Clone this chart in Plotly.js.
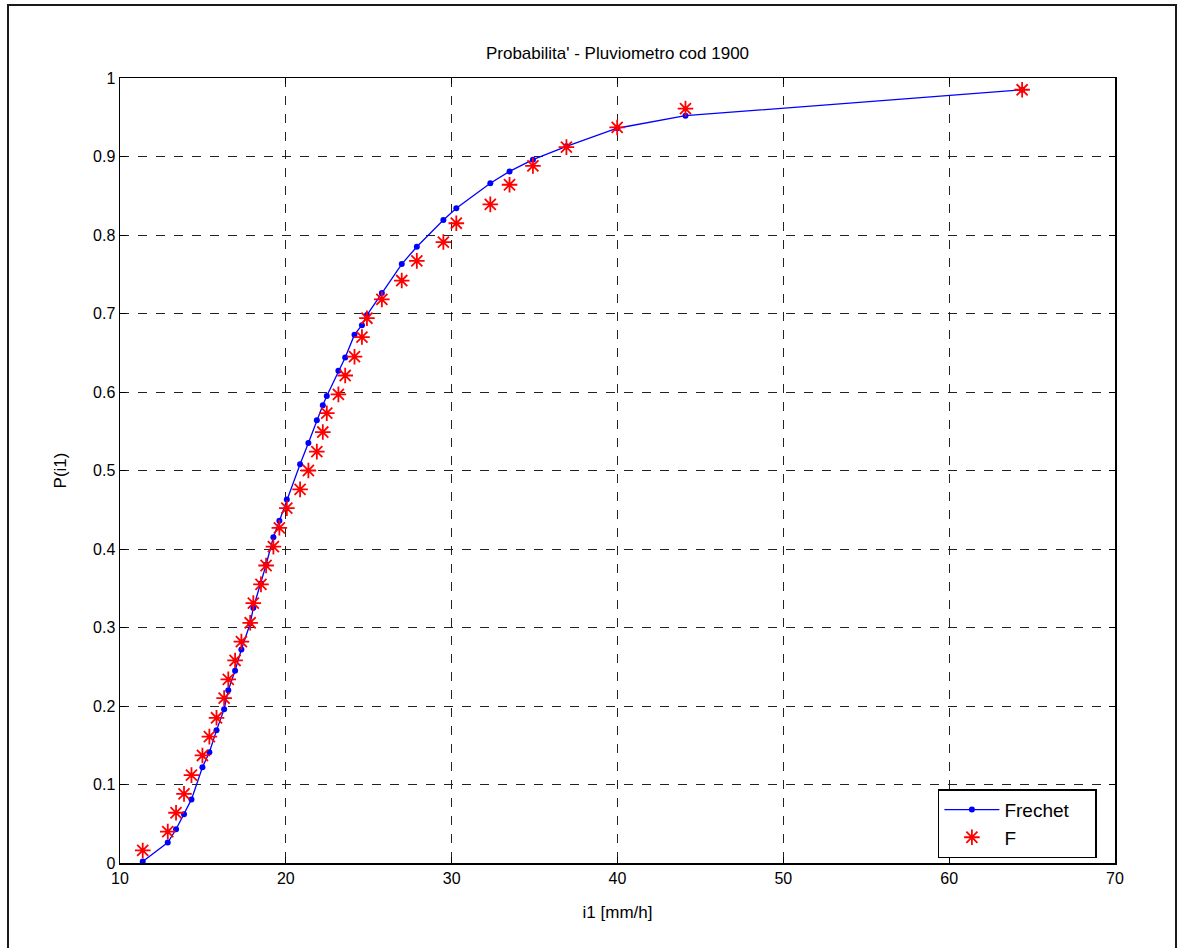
<!DOCTYPE html>
<html>
<head>
<meta charset="utf-8">
<script src="https://cdn.plot.ly/plotly-3.0.1.min.js"></script>
<style>
  html, body { margin: 0; padding: 0; background: #fff; }
  #wrap { position: relative; width: 1184px; height: 948px; overflow: hidden; }
  #chart { position: absolute; left: 0; top: 0; width: 1184px; height: 948px; }
  #frame { position: absolute; left: 7px; top: 4px; width: 1166px; height: 960px;
           border: 2px solid #1a1a1a; border-bottom: none; pointer-events: none; }
</style>
</head>
<body>
<div id="wrap">
  <div id="chart"></div>
  <div id="frame"></div>
</div>
<script>
// Observed intensities i1 [mm/h] (sorted)
const i1 = [11.37, 12.88, 13.38, 13.86, 14.31, 14.97, 15.39, 15.82, 16.28, 16.53,
            16.94, 17.32, 17.85, 18.04, 18.50, 18.81, 19.25, 19.61, 20.06, 20.86,
            21.36, 21.87, 22.23, 22.47, 23.17, 23.58, 24.14, 24.59, 24.89, 25.79,
            26.99, 27.90, 29.50, 30.28, 32.33, 33.49, 34.90, 36.92, 39.98, 44.10,
            64.40];

// Frechet fitted probability
const frechet = [0.002, 0.026, 0.043, 0.062, 0.081, 0.122, 0.141, 0.169, 0.196, 0.220,
                 0.245, 0.272, 0.305, 0.325, 0.356, 0.380, 0.415, 0.436, 0.463, 0.508,
                 0.535, 0.564, 0.583, 0.595, 0.627, 0.644, 0.673, 0.685, 0.698, 0.726,
                 0.763, 0.785, 0.819, 0.834, 0.866, 0.881, 0.896, 0.913, 0.936, 0.952,
                 0.985];

// Empirical frequency F
const empF = [0.016, 0.040, 0.064, 0.088, 0.112, 0.137, 0.161, 0.185, 0.210, 0.234,
              0.258, 0.282, 0.306, 0.331, 0.355, 0.379, 0.403, 0.427, 0.452, 0.476,
              0.500, 0.524, 0.549, 0.573, 0.597, 0.621, 0.645, 0.670, 0.694, 0.718,
              0.742, 0.767, 0.791, 0.815, 0.839, 0.864, 0.888, 0.912, 0.937, 0.961,
              0.985];

const xTicks = [10, 20, 30, 40, 50, 60, 70];
const yTicks = [0, 0.1, 0.2, 0.3, 0.4, 0.5, 0.6, 0.7, 0.8, 0.9, 1];
const yTickText = ['0', '0.1', '0.2', '0.3', '0.4', '0.5', '0.6', '0.7', '0.8', '0.9', '1'];

const FONT = 'Liberation Sans, Arial, sans-serif';

const traces = [
  {
    x: i1, y: frechet, name: 'Frechet\u00a0\u00a0\u00a0\u00a0', type: 'scatter', mode: 'lines+markers',
    line: { color: '#0000ff', width: 1.3 },
    marker: { color: '#0000ff', size: 6, symbol: 'circle' }
  },
  {
    x: i1, y: empF, name: 'F', type: 'scatter', mode: 'markers',
    marker: { color: '#ff0000', size: 13, symbol: 'asterisk-open',
              line: { color: '#ff0000', width: 1.8 } }
  }
];

const axisCommon = {
  showline: true, linecolor: '#000', linewidth: 1.5, mirror: 'ticks',
  ticks: 'inside', ticklen: 6, tickcolor: '#000', tickwidth: 1,
  showgrid: true, gridcolor: '#222', griddash: 'dash', gridwidth: 1,
  zeroline: false, tickfont: { family: FONT, size: 16, color: '#000' }
};

const layout = {
  width: 1184, height: 948,
  margin: { l: 120, r: 69, t: 78, b: 85 },
  paper_bgcolor: '#fff', plot_bgcolor: '#fff',
  title: { text: "Probabilita' - Pluviometro cod 1900", x: 0.5, xref: 'paper', y: 0.95, yref: 'container',
           font: { family: FONT, size: 17, color: '#000' } },
  xaxis: Object.assign({}, axisCommon, {
    range: [10, 70], tickvals: xTicks, ticktext: xTicks.map(String),
    title: { text: 'i1 [mm/h]', standoff: 20, font: { family: FONT, size: 17, color: '#000' } }
  }),
  yaxis: Object.assign({}, axisCommon, {
    range: [0, 1], tickvals: yTicks, ticktext: yTickText,
    title: { text: 'P(i1)', standoff: 22, font: { family: FONT, size: 17, color: '#000' } }
  }),
  showlegend: true,
  legend: {
    x: 0.822, y: 0.094, xanchor: 'left', yanchor: 'top',
    bgcolor: '#fff', bordercolor: '#000', borderwidth: 1.5,
    font: { family: FONT, size: 19, color: '#000' },
    itemwidth: 55, tracegroupgap: 0
  }
};

Plotly.newPlot('chart', traces, layout, { displayModeBar: false, staticPlot: true });
</script>
</body>
</html>
